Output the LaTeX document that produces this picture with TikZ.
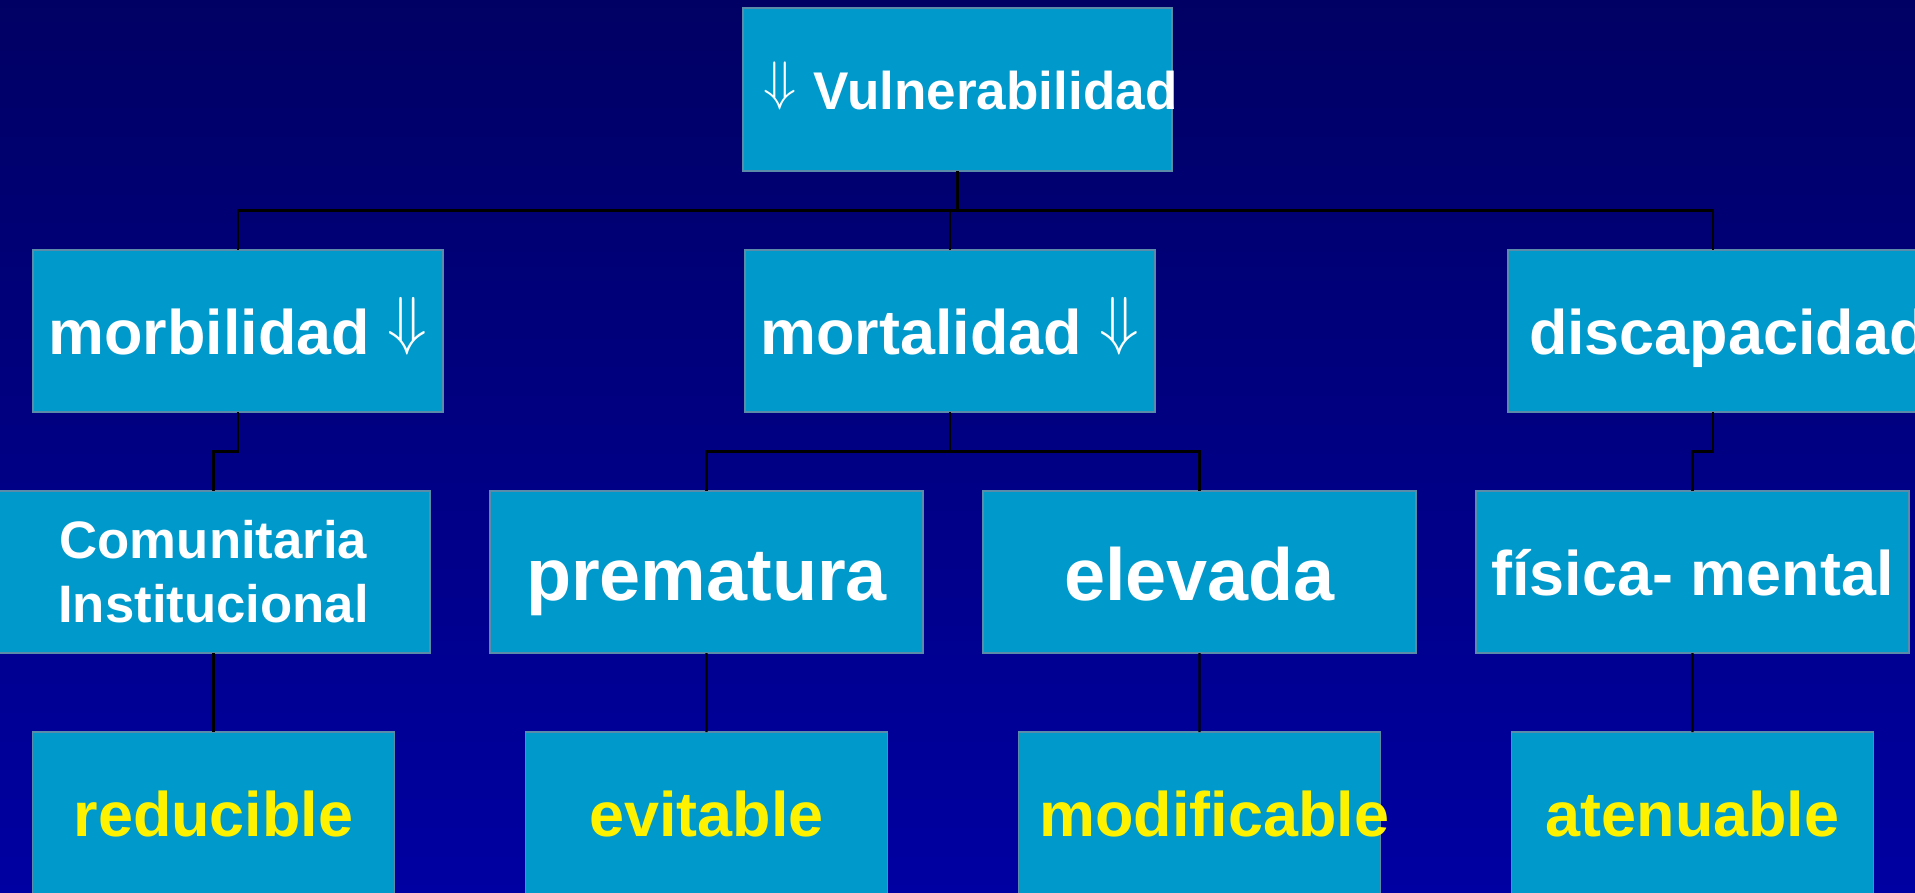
\documentclass[tikz,border=0pt]{standalone}
\usepackage{fontspec}
\usepackage{graphicx}
\setmainfont{Liberation Sans}
\usetikzlibrary{positioning}

\definecolor{bgtop}{RGB}{0,0,100}
\definecolor{bgbottom}{RGB}{0,0,162}
\definecolor{boxfill}{RGB}{0,153,204}
\definecolor{boxline}{RGB}{90,140,170}

\newcommand{\dnarrow}{\raisebox{.2em}{\scalebox{1.07}{$\Downarrow$}}}

\begin{document}
\begin{tikzpicture}[
    node distance=0.79cm and 0.6cm,
    box/.style={draw=boxline, fill=boxfill, line width=0.5pt, inner sep=0pt, outer sep=0pt, minimum height=1.62cm},
    smalltext/.style={font=\bfseries\fontsize{15.1}{18.2}\selectfont, text height=11.5pt, text depth=0pt},
    midtext/.style={font=\bfseries\fontsize{17.9}{21}\selectfont, text height=13.6pt, text depth=0pt},
    bigtext/.style={font=\bfseries\fontsize{21}{25}\selectfont, text height=16pt, text depth=0pt},
    root/.style={box, smalltext, text=white, minimum height=1.63cm},
    branch/.style={box, midtext, text=white, minimum width=4.10cm},
    kind/.style={box, text=white, minimum width=4.33cm},
    target/.style={box, midtext, text=yellow, minimum width=3.62cm},
    link/.style={draw=black, line width=0.6pt}
]

\useasboundingbox (0,0) rectangle (19.15,-8.92);
\clip (0,0) rectangle (19.15,-8.92);
\shade[top color=bgtop, bottom color=bgbottom] (0,0) rectangle (19.15,-8.92);

% top
\node[root, text width=3.89cm, inner xsep=0.2cm, align=left] (vulnerabilidad) at (9.575,-0.895) {\mbox{\dnarrow\ Vulnerabilidad}};

% first level
\node[branch, below=of vulnerabilidad, xshift=-0.75mm] (mortalidad) {mortalidad \dnarrow};
\node[branch, left=3.02cm of mortalidad] (morbilidad) {morbilidad \dnarrow};
\node[branch, right=3.53cm of mortalidad, text width=3.68cm, inner xsep=0.21cm, align=left] (discapacidad) {\mbox{discapacidad \dnarrow}};

% second level
\node[kind, below=of morbilidad, xshift=-2.45mm, align=center, font=\bfseries\fontsize{15}{18.2}\selectfont] (comunitaria) {Comunitaria\\Institucional};
\node[kind, bigtext, right=of comunitaria] (prematura) {prematura};
\node[kind, bigtext, right=of prematura] (elevada) {elevada};
\node[kind, midtext, right=of elevada] (fisica_mental) {física- mental};

% third level
\node[target, below=of comunitaria] (reducible) {reducible};
\node[target, right=1.31cm of reducible] (evitable) {evitable};
\node[target, right=1.31cm of evitable, text width=3.20cm, inner xsep=0.21cm, align=left] (modificable) {\mbox{modificable}};
\node[target, right=1.31cm of modificable] (atenuable) {atenuable};

\draw[link] (vulnerabilidad.south) -- ++(0,-0.395) coordinate (bar_top);
\draw[link] (bar_top) -| (morbilidad.north);
\draw[link] (bar_top) -| (discapacidad.north);
\draw[link] (mortalidad.north) |- (bar_top);

\draw[link] (morbilidad.south) -- ++(0,-0.395) -| (comunitaria.north);
\draw[link] (mortalidad.south) -- ++(0,-0.395) coordinate (bar_mort);
\draw[link] (bar_mort) -| (prematura.north);
\draw[link] (bar_mort) -| (elevada.north);
\draw[link] (discapacidad.south) -- ++(0,-0.395) -| (fisica_mental.north);

\draw[link] (comunitaria) -- (reducible);
\draw[link] (prematura) -- (evitable);
\draw[link] (elevada) -- (modificable);
\draw[link] (fisica_mental) -- (atenuable);

\end{tikzpicture}
\end{document}
